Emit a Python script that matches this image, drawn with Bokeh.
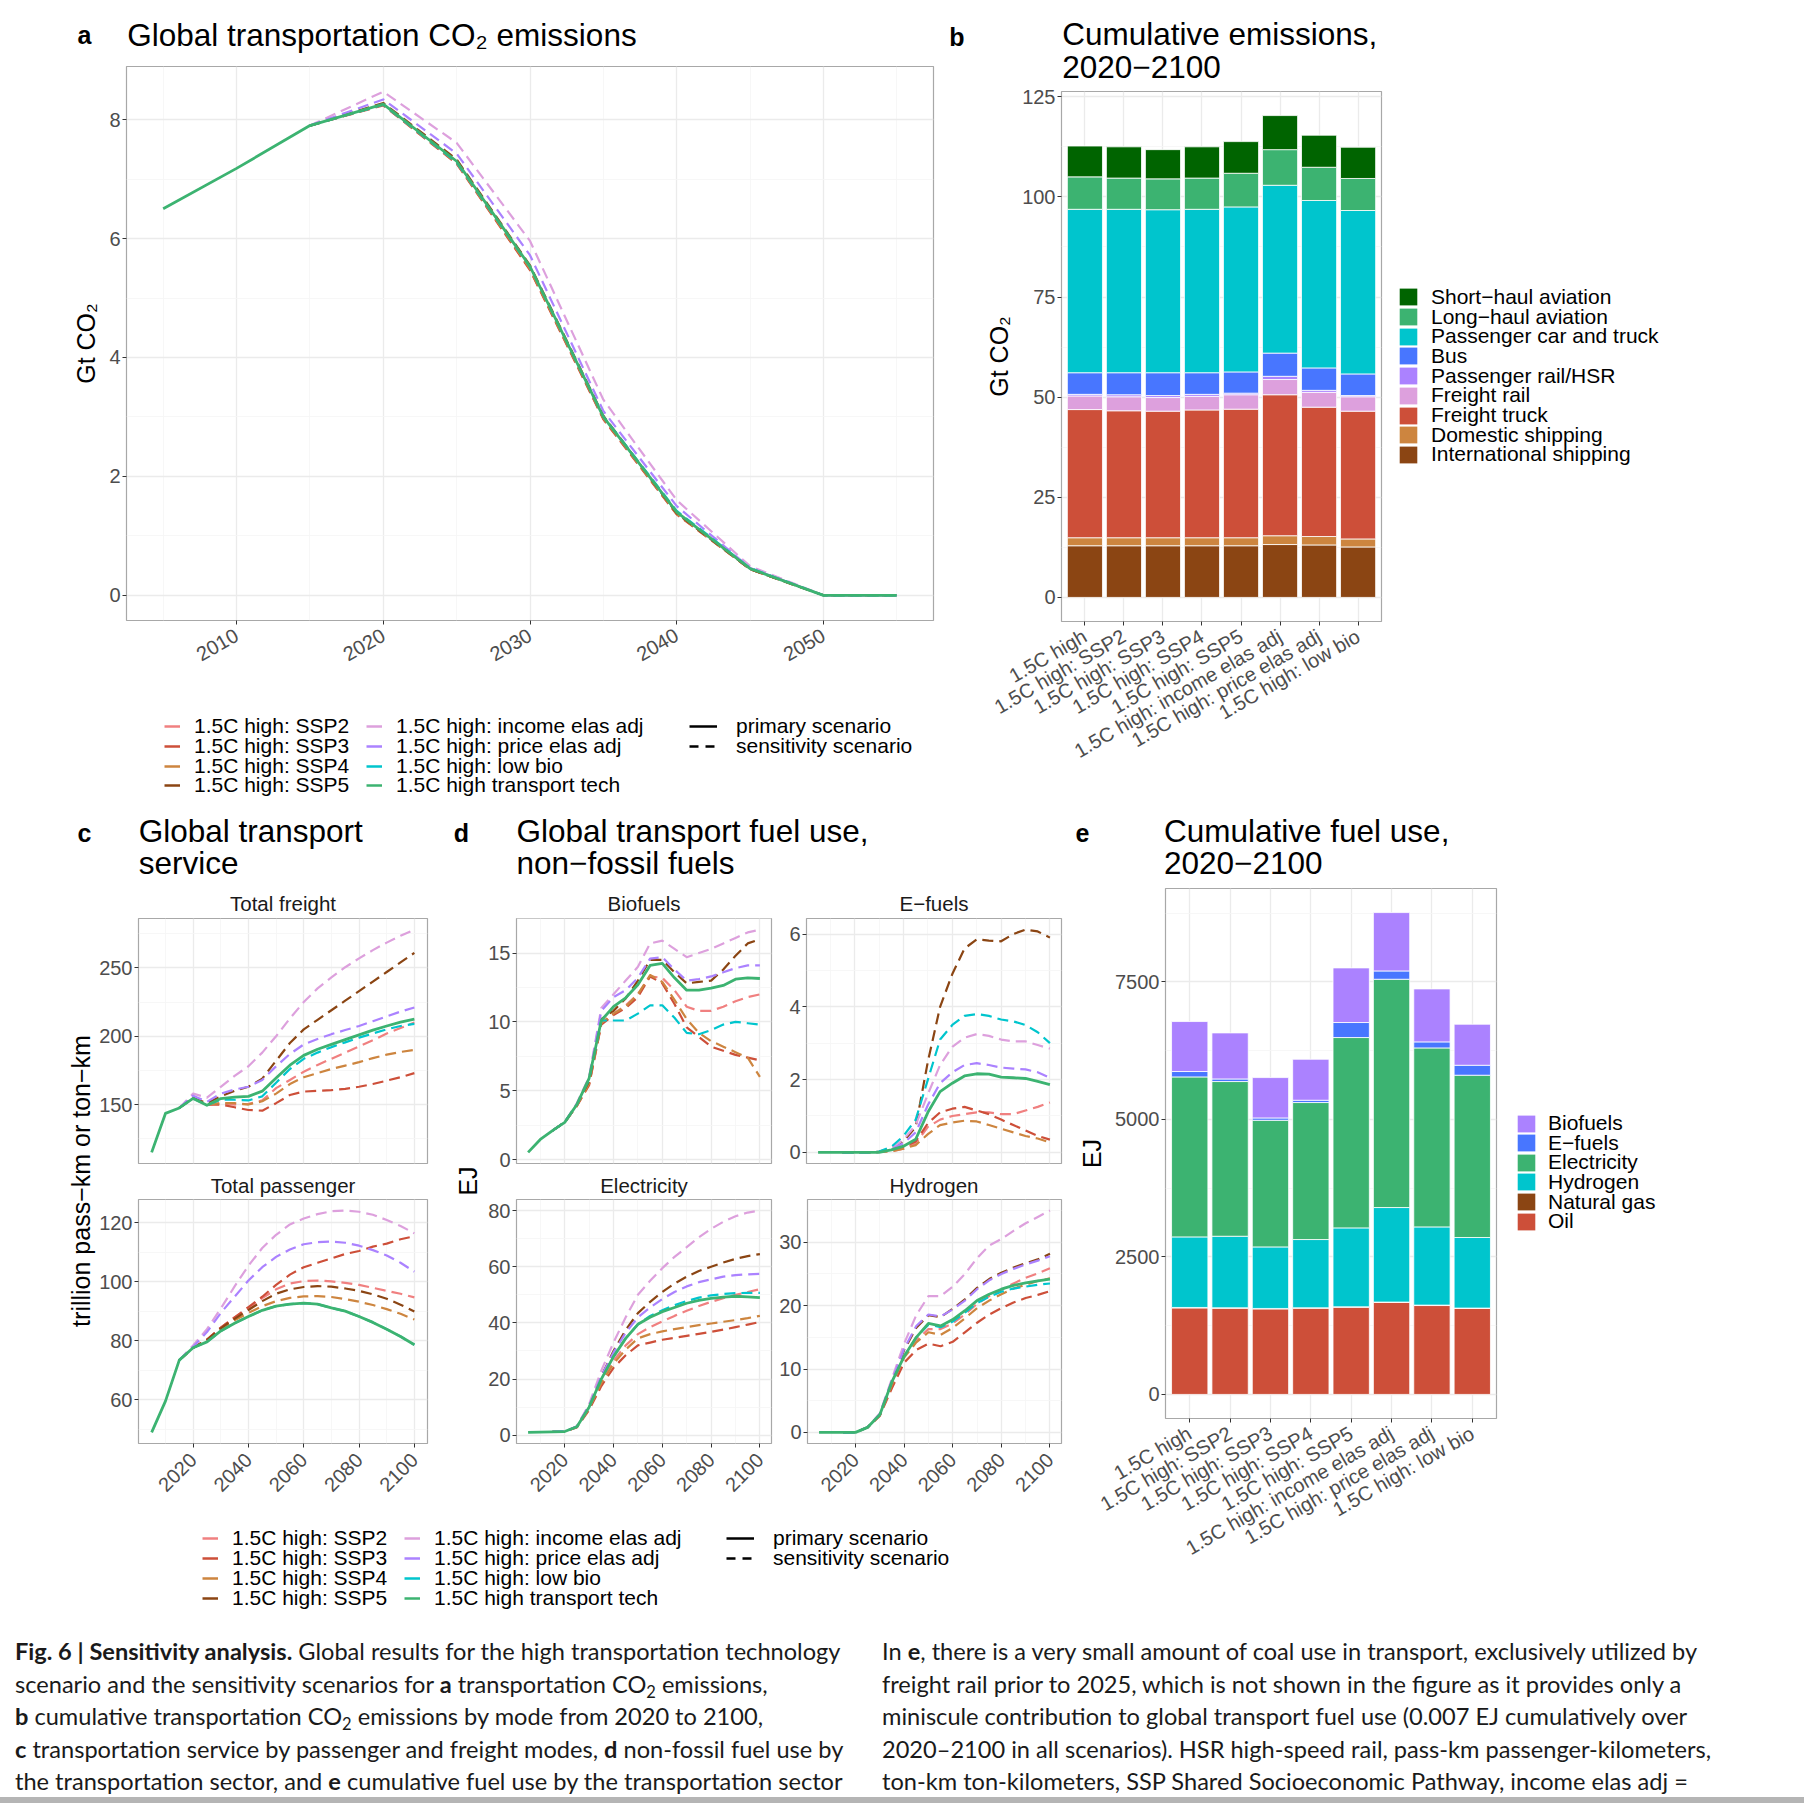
import math
from bokeh.plotting import figure
from bokeh.models import Range1d, FixedTicker, Label, Legend, LegendItem, ColumnDataSource, Div
from bokeh.layouts import row, column
from bokeh.embed import file_html
from bokeh.resources import INLINE
from bokeh.core.properties import value

FONT = "Liberation Sans"
MI = "\u2212"
NAN = float("nan")

# ============================ DATA ============================
YEARS = [2005, 2010, 2015, 2020, 2025, 2030, 2035, 2040, 2045, 2050,
         2055, 2060, 2065, 2070, 2075, 2080, 2085, 2090, 2095, 2100]
SENS_YEARS = [2015, 2020, 2025, 2030, 2035, 2040, 2045, 2050, 2055, 2060,
              2065, 2070, 2075, 2080, 2085, 2090, 2095, 2100]
A_YEARS = [2005, 2010, 2015, 2020, 2025, 2030, 2035, 2040, 2045, 2050, 2055]
A_SENS_YEARS = [2015, 2020, 2025, 2030, 2035, 2040, 2045, 2050, 2055]

SCENARIOS = ["ssp2", "ssp3", "ssp4", "ssp5", "income", "price", "lowbio", "tech"]
SCENARIO_LABELS = ["1.5C high: SSP2", "1.5C high: SSP3", "1.5C high: SSP4", "1.5C high: SSP5",
                   "1.5C high: income elas adj", "1.5C high: price elas adj",
                   "1.5C high: low bio", "1.5C high transport tech"]
SCENARIO_COLORS = ["#F08080", "#CD4F39", "#CD853F", "#8B4513",
                   "#DDA0DD", "#AB82FF", "#00C5CD", "#3CB371"]

# (a) global transportation CO2 emissions, Gt CO2
co2 = {
    "ssp2":   [7.9, 8.25, 7.27, 5.48, 2.97, 1.37, 0.44, 0.0, 0.0],
    "ssp3":   [7.9, 8.24, 7.26, 5.47, 2.96, 1.36, 0.44, 0.0, 0.0],
    "ssp4":   [7.9, 8.25, 7.27, 5.49, 2.98, 1.37, 0.44, 0.0, 0.0],
    "ssp5":   [7.9, 8.28, 7.33, 5.55, 3.02, 1.38, 0.44, 0.0, 0.0],
    "income": [7.9, 8.47, 7.61, 5.96, 3.29, 1.60, 0.49, 0.0, 0.0],
    "price":  [7.9, 8.34, 7.43, 5.72, 3.10, 1.50, 0.46, 0.0, 0.0],
    "lowbio": [7.9, 8.25, 7.28, 5.52, 3.01, 1.42, 0.46, 0.0, 0.0],
    "tech":   [6.5, 7.18, 7.9, 8.26, 7.30, 5.53, 3.00, 1.40, 0.45, 0.0, 0.0],
}

# (c) transport service, trillion ton-km / pass-km
freight = {
    "ssp2":   [147.5, 155, 150, 151, 150, 150.5, 153, 162, 168, 174, 179, 183.5, 188, 192.5, 197, 202, 206, 210],
    "ssp3":   [147.5, 155, 150, 150, 148, 146, 145.5, 151, 157, 159.5, 160, 160.5, 161.5, 163, 165, 167.5, 170, 173],
    "ssp4":   [147.5, 155, 150, 151, 151, 150, 152.4, 158, 165, 170, 173, 176, 178.5, 181, 184, 186.5, 188.5, 190],
    "ssp5":   [147.5, 155, 151, 156, 160, 163, 169, 182, 195, 205, 212, 219, 226, 233, 240, 247, 254, 261],
    "income": [147.5, 158, 155, 163, 171, 178, 188, 200, 213, 225, 235, 243, 250.5, 257, 263, 268.5, 273.5, 278],
    "price":  [147.5, 156.5, 152, 158, 161, 163, 168, 178, 187, 194, 198, 201.5, 204.5, 207.5, 211, 214.5, 218, 221],
    "lowbio": [147.5, 154.5, 149.5, 153.5, 153.5, 153, 156, 166, 176, 183.5, 188, 192, 195.5, 199, 202, 205, 207.5, 209],
    "tech":   [115, 143.5, 147.5, 154.5, 149.5, 154.4, 155.5, 156, 159.8, 169.5, 178.8, 186, 190.5, 194, 197.5, 201, 204.5, 207.5, 210.3, 212.5],
}
passenger = {
    "ssp2":   [73.5, 77.7, 80.5, 84.5, 88, 91, 94.5, 97.5, 99.5, 100.3, 100.5, 100.2, 99.7, 99, 98, 97, 96, 94.8],
    "ssp3":   [73.5, 77.7, 80.5, 84.5, 88, 91.5, 95, 99, 102.5, 105, 106.5, 108, 109.5, 110.5, 112, 113, 114.5, 115.5],
    "ssp4":   [73.5, 77.7, 80, 84, 87, 89.5, 91.8, 93.5, 94.6, 95.1, 95.2, 94.9, 94.2, 93.3, 92.2, 90.8, 89.2, 87.3],
    "ssp5":   [73.5, 77.7, 80.3, 84.3, 87.5, 90.5, 93.5, 96, 97.5, 98.3, 98.6, 98.4, 97.8, 97, 95.8, 94.3, 92.3, 90],
    "income": [73.5, 78.5, 84, 91, 98.5, 105.5, 111.5, 116, 119.5, 121.5, 123, 124, 124.2, 123.8, 122.8, 121, 119, 116.5],
    "price":  [73.5, 78, 83, 89.5, 95, 100.5, 105, 108.5, 111, 112.8, 113.5, 113.7, 113.3, 112.3, 110.8, 109, 106.5, 103.5],
    "lowbio": [73.5, 77.7, 79.7, 83.4, 86.0, 88.3, 90.4, 91.8, 92.5, 92.8, 92.5, 91.2, 90.1, 88.3, 86.3, 84.0, 81.5, 78.7],
    "tech":   [49.0, 59.6, 73.5, 77.7, 79.7, 83.4, 86.0, 88.3, 90.4, 91.8, 92.5, 92.8, 92.5, 91.2, 90.1, 88.3, 86.3, 84.0, 81.5, 78.7],
}

# (d) non-fossil fuel use, EJ
biofuels = {
    "ssp2":   [2.1, 2.7, 3.9, 5.5, 9.9, 10.6, 11.2, 12.0, 13.3, 13.2, 12.3, 11.1, 10.8, 10.8, 11.1, 11.5, 11.8, 12.0],
    "ssp3":   [2.1, 2.7, 3.9, 5.4, 9.8, 10.5, 11.0, 11.8, 13.3, 12.8, 11.3, 9.6, 8.9, 8.2, 7.9, 7.6, 7.4, 7.2],
    "ssp4":   [2.1, 2.7, 3.9, 5.5, 9.9, 10.6, 11.1, 12.0, 13.4, 12.9, 11.6, 10.2, 9.2, 8.6, 8.2, 7.8, 7.4, 6.0],
    "ssp5":   [2.1, 2.7, 4.0, 5.7, 10.2, 10.8, 11.7, 13.0, 14.5, 14.5, 13.6, 12.8, 12.9, 13.0, 13.8, 14.8, 15.7, 16.0],
    "income": [2.1, 2.7, 4.1, 6.0, 11.0, 12.0, 13.0, 14.0, 15.7, 15.9, 15.3, 14.7, 15.0, 15.3, 15.7, 16.1, 16.5, 16.7],
    "price":  [2.1, 2.7, 4.0, 5.9, 10.8, 11.8, 12.3, 13.2, 14.6, 14.7, 13.8, 13.0, 13.1, 13.3, 13.6, 13.9, 14.1, 14.1],
    "lowbio": [2.1, 2.7, 4.0, 5.8, 10.1, 10.1, 10.1, 10.6, 11.2, 11.2, 10.3, 9.2, 9.1, 9.4, 9.8, 10.0, 9.9, 9.8],
    "tech":   [0.52, 1.46, 2.1, 2.7, 4.0, 5.9, 10.1, 11.1, 11.75, 12.7, 14.1, 14.25, 13.2, 12.3, 12.3, 12.45, 12.65, 13.1, 13.2, 13.15],
}
efuels = {
    "ssp2":   [0, 0, 0, 0.01, 0.03, 0.1, 0.25, 0.7, 0.9, 1.0, 1.05, 1.1, 1.1, 1.05, 1.05, 1.15, 1.25, 1.37],
    "ssp3":   [0, 0, 0, 0.01, 0.05, 0.15, 0.3, 0.8, 1.1, 1.2, 1.25, 1.15, 1.05, 0.9, 0.75, 0.6, 0.45, 0.35],
    "ssp4":   [0, 0, 0, 0.01, 0.03, 0.1, 0.2, 0.5, 0.75, 0.82, 0.87, 0.85, 0.75, 0.65, 0.55, 0.45, 0.38, 0.27],
    "ssp5":   [0, 0, 0, 0.02, 0.1, 0.3, 0.7, 2.5, 4.0, 4.9, 5.6, 5.85, 5.82, 5.8, 6.0, 6.12, 6.07, 5.9],
    "income": [0, 0, 0, 0.01, 0.1, 0.35, 0.75, 1.6, 2.4, 2.9, 3.15, 3.25, 3.2, 3.1, 3.05, 3.05, 2.95, 2.85],
    "price":  [0, 0, 0, 0.01, 0.08, 0.25, 0.55, 1.3, 1.9, 2.2, 2.4, 2.45, 2.4, 2.33, 2.3, 2.28, 2.2, 2.05],
    "lowbio": [0, 0, 0, 0.02, 0.15, 0.45, 0.9, 2.0, 3.1, 3.5, 3.75, 3.8, 3.75, 3.65, 3.6, 3.5, 3.3, 3.0],
    "tech":   [0, 0, 0, 0, 0, 0, 0.07, 0.17, 0.36, 1.1, 1.67, 1.9, 2.1, 2.16, 2.15, 2.07, 2.05, 2.03, 1.95, 1.86],
}
electricity = {
    "ssp2":   [1.2, 1.3, 2.9, 9.5, 19, 26.5, 32, 36, 38.5, 40.5, 42.5, 44.3, 46, 47.5, 48.8, 50, 51, 52],
    "ssp3":   [1.2, 1.3, 2.8, 9, 17.5, 24, 28.5, 32, 33, 34, 34.7, 35.4, 36.1, 36.8, 37.6, 38.5, 39.4, 40.3],
    "ssp4":   [1.2, 1.3, 2.9, 9.5, 18.5, 25.5, 30.5, 34.5, 36, 37, 37.8, 38.5, 39.2, 39.8, 40.4, 41, 41.7, 42.5],
    "ssp5":   [1.2, 1.3, 3.1, 10.5, 21, 30, 37.5, 43.5, 47.5, 51, 54, 56.5, 58.5, 60, 61.5, 62.8, 63.8, 64.5],
    "income": [1.2, 1.3, 3.2, 11, 23, 33, 42, 50, 55, 59.5, 63.5, 67, 70.5, 73.5, 76, 78, 79.3, 80],
    "price":  [1.2, 1.3, 3.1, 10.5, 21, 29.5, 36.5, 42, 45.5, 48.5, 51, 53, 54.5, 55.5, 56.5, 57, 57.3, 57.5],
    "lowbio": [1.2, 1.3, 3.0, 10, 20, 28, 34.5, 39.5, 42.5, 44.5, 46.3, 47.8, 49, 49.8, 50.3, 50.6, 50.7, 50.7],
    "tech":   [1.0, 1.1, 1.2, 1.3, 3.0, 10, 20, 28, 34.5, 39.5, 42, 44, 45.5, 47, 48, 48.7, 49.2, 49.5, 49.3, 49.0],
}
hydrogen = {
    "ssp2":   [0, 0, 0.8, 2.7, 7.5, 12, 14.5, 16.3, 16.3, 17.2, 18.6, 20.3, 21.5, 22.5, 23.5, 24.4, 25.1, 25.9],
    "ssp3":   [0, 0, 0.8, 2.6, 7, 11, 13, 14, 13.6, 14.3, 15.8, 17.3, 18.6, 19.6, 20.5, 21.2, 21.7, 22.3],
    "ssp4":   [0, 0, 0.8, 2.7, 7.5, 11.8, 14.2, 15.8, 15.4, 16.5, 18, 19.6, 20.8, 21.8, 22.7, 23.3, 23.9, 24.3],
    "ssp5":   [0, 0, 0.8, 2.9, 8, 13, 16.5, 18.5, 18.2, 19.5, 21, 22.8, 24.2, 25.2, 26, 26.7, 27.3, 28.2],
    "income": [0, 0, 0.8, 3.0, 8.5, 14, 18.5, 21.5, 21.5, 23, 25, 27.5, 29.5, 30.5, 31.8, 33, 34, 35],
    "price":  [0, 0, 0.8, 2.9, 8.2, 13.2, 16.8, 18.6, 18.3, 19.4, 20.8, 22.6, 24, 25, 25.8, 26.5, 27.1, 27.8],
    "lowbio": [0, 0, 0.8, 2.8, 8, 12, 15, 17, 16.6, 17.5, 18.9, 20.4, 21.4, 22.2, 22.7, 23, 23.3, 23.5],
    "tech":   [0, 0, 0, 0, 0.8, 2.8, 8, 12, 15, 17.2, 16.8, 17.8, 19.2, 20.8, 21.8, 22.6, 23.2, 23.6, 23.9, 24.2],
}

# (b) and (e) categories
CATEGORIES = ["1.5C high", "1.5C high: SSP2", "1.5C high: SSP3", "1.5C high: SSP4",
              "1.5C high: SSP5", "1.5C high: income elas adj", "1.5C high: price elas adj",
              "1.5C high: low bio"]

# (b) cumulative emissions 2020-2100 by mode, Gt CO2 (stack bottom -> top)
intl_shipping   = [12.9, 12.9, 12.9, 12.9, 12.9, 13.2, 13.1, 12.6]
dom_shipping    = [2.0, 2.0, 2.0, 2.0, 2.0, 2.2, 2.1, 2.0]
freight_truck   = [32.0, 31.7, 31.6, 31.9, 32.1, 35.2, 32.3, 31.9]
freight_rail    = [3.4, 3.5, 3.4, 3.4, 3.6, 3.8, 3.7, 3.6]
passenger_rail  = [0.4, 0.5, 0.5, 0.5, 0.4, 0.8, 0.5, 0.3]
bus             = [5.4, 5.5, 5.7, 5.4, 5.3, 5.8, 5.6, 5.4]
car_truck       = [40.8, 40.8, 40.7, 40.8, 41.2, 41.9, 41.8, 40.8]
longhaul_avi    = [8.1, 7.8, 7.7, 7.8, 8.4, 8.9, 8.3, 8.0]
shorthaul_avi   = [7.7, 7.8, 7.3, 7.8, 7.9, 8.5, 8.0, 7.8]
B_LABELS = ["International shipping", "Domestic shipping", "Freight truck", "Freight rail",
            "Passenger rail/HSR", "Bus", "Passenger car and truck",
            "Long" + MI + "haul aviation", "Short" + MI + "haul aviation"]
B_COLORS = ["#8B4513", "#CD853F", "#CD4F39", "#DDA0DD", "#AB82FF", "#4876FF",
            "#00C5CD", "#3CB371", "#006400"]

# (e) cumulative fuel use 2020-2100, EJ (stack bottom -> top)
fuel_oil         = [1573, 1567, 1555, 1567, 1585, 1671, 1616, 1562]
fuel_gas         = [8, 8, 8, 8, 8, 8, 8, 8]
fuel_hydrogen    = [1283, 1301, 1119, 1241, 1435, 1719, 1422, 1283]
fuel_electricity = [2909, 2813, 2303, 2491, 3461, 4151, 3254, 2951]
fuel_efuels      = [98, 47, 42, 42, 273, 151, 110, 181]
fuel_biofuels    = [909, 837, 734, 745, 993, 1061, 963, 746]
E_LABELS = ["Oil", "Natural gas", "Hydrogen", "Electricity", "E" + MI + "fuels", "Biofuels"]
E_COLORS = ["#CD4F39", "#8B4513", "#00C5CD", "#3CB371", "#4876FF", "#AB82FF"]

# ============================ STYLE HELPERS ============================
FRAME_COLOR = "#A8A8A8"
GRID_MAJOR = "#EBEBEB"
GRID_MINOR = "#F5F5F5"
TICK_COLOR = "#333333"
TICK_LABEL_COLOR = "#4D4D4D"
DASH = "11 6"


def W(p):
    return column(p)


def mk(w, h, bl, bt, fw, fh, xr, yr):
    p = figure(width=w, height=h, x_range=xr, y_range=yr, toolbar_location=None,
               output_backend="svg", min_border_left=bl, min_border_top=bt,
               min_border_right=w - bl - fw, min_border_bottom=h - bt - fh)
    p.outline_line_color = FRAME_COLOR
    p.outline_line_width = 1.2
    p.background_fill_color = "white"
    p.border_fill_color = "white"
    return p


def blank(w, h):
    p = figure(width=w, height=h, x_range=Range1d(0, 1), y_range=Range1d(0, 1),
               toolbar_location=None, output_backend="svg",
               x_axis_location=None, y_axis_location=None,
               min_border_left=0, min_border_right=0, min_border_top=0, min_border_bottom=0)
    p.outline_line_color = None
    p.grid.visible = False
    return p


def header(w, h, texts):
    """texts: (x, y, text, size, bold, align, angle, color) in canvas px (y from top)."""
    p = blank(w, h)
    for (x, y, text, size, bold, align, angle, color) in texts:
        p.add_layout(Label(x=x, y=h - y, x_units="screen", y_units="screen", text=text,
                           text_font=FONT, text_font_size=size,
                           text_font_style="bold" if bold else "normal",
                           text_align=align, text_baseline="middle", angle=angle,
                           text_color=color))
    return p


def T(x, y, text, size="31.5px", bold=False, align="left", angle=0.0, color="black"):
    return (x, y, text, size, bold, align, angle, color)


def style(p, xt, xm, yt, ym, show_x=True, x_angle=0, x_over=None, ylab=None):
    xf = FixedTicker(ticks=xt, minor_ticks=xm)
    yf = FixedTicker(ticks=yt, minor_ticks=ym)
    xa, ya = p.xaxis[0], p.yaxis[0]
    xa.ticker = xf
    ya.ticker = yf
    p.xgrid[0].ticker = xf
    p.ygrid[0].ticker = yf
    for g in (p.xgrid[0], p.ygrid[0]):
        g.grid_line_color = GRID_MAJOR
        g.grid_line_width = 1.3
        g.minor_grid_line_color = GRID_MINOR
        g.minor_grid_line_width = 0.8
    for a in (xa, ya):
        a.axis_line_color = None
        a.major_tick_line_color = TICK_COLOR
        a.major_tick_line_width = 1
        a.major_tick_out = 4
        a.major_tick_in = 0
        a.minor_tick_out = 0
        a.minor_tick_in = 0
        a.major_label_text_font = FONT
        a.major_label_text_font_size = "20px"
        a.major_label_text_color = TICK_LABEL_COLOR
        a.major_label_standoff = 2
    if x_angle:
        xa.major_label_orientation = math.radians(x_angle)
        xa.major_label_standoff = 9
    if x_over:
        xa.major_label_overrides = x_over
    if not show_x:
        xa.visible = False
    if ylab:
        ya.axis_label = ylab
        ya.axis_label_text_font = FONT
        ya.axis_label_text_font_size = "25px"
        ya.axis_label_text_font_style = "normal"
        ya.axis_label_text_color = "black"
        ya.axis_label_standoff = 6


def expand(vals, mult=0.05):
    lo, hi = min(vals), max(vals)
    d = (hi - lo) * mult
    return Range1d(lo - d, hi + d)


def all_vals(d):
    out = []
    for k in d:
        out += d[k]
    return out


def draw_scen(p, d, sens_years, tech_years):
    for k, c in zip(SCENARIOS[:-1], SCENARIO_COLORS[:-1]):
        p.line(sens_years, d[k], line_color=c, line_width=2.2, line_dash=DASH, line_join="round")
    p.line(tech_years, d["tech"], line_color=SCENARIO_COLORS[-1], line_width=2.8, line_join="round")


ITEM_H = 24.2   # rendered legend item height for 21px labels


def legend_canvas(w, h, top, blocks):
    """One single-item Legend per key, placed at exact rows.
    blocks: (x_key, first_row_center_page, pitch, entries, glyph_w, glyph_h, standoff)
    entries: (label, kind, color, dash)"""
    p = blank(w, h)
    for (xk, c0, pitch, entries, gw, gh, so) in blocks:
        for i, (lab, kind, color, dash) in enumerate(entries):
            if kind == "line":
                r = p.line(x=[NAN], y=[NAN], line_color=color, line_width=2.5, line_dash=dash)
            else:
                r = p.vbar(x=[NAN], top=[NAN], width=1, fill_color=color, line_color=None)
            center = c0 + i * pitch - top
            leg = Legend(items=[LegendItem(label=value(lab), renderers=[r])],
                         location=(xk, h - center - ITEM_H / 2), orientation="vertical",
                         padding=0, margin=0, spacing=0, glyph_width=gw, glyph_height=gh,
                         label_height=20, label_standoff=so, label_text_font=FONT,
                         label_text_font_size="21px", label_text_color="black",
                         border_line_color=None, background_fill_alpha=0)
            p.add_layout(leg)
    return p


SC_ENTRIES = [(l, "line", c, "solid") for l, c in zip(SCENARIO_LABELS, SCENARIO_COLORS)]
LT_ENTRIES = [("primary scenario", "line", "black", "solid"),
              ("sensitivity scenario", "line", "black", "9 7")]


def scen_legend(w, h, top, first, pitch, x1, x2, x3):
    return legend_canvas(w, h, top, [
        (x1, first, pitch, SC_ENTRIES[:4], 16, 20, 14),
        (x2, first, pitch, SC_ENTRIES[4:], 16, 20, 14),
        (x3, first, pitch, LT_ENTRIES, 28, 20, 19),
    ])


CAT_X = [1, 2, 3, 4, 5, 6, 7, 8]
CAT_OVER = {i + 1: CATEGORIES[i] for i in range(8)}
PITCH = 19.7

# ============================ PANEL A ============================
head_a = header(982, 60, [T(84, 34.5, "a", "25px", True, "center"),
                          T(126.7, 34.5, "Global transportation CO\u2082 emissions"),
                          T(956.5, 36.7, "b", "25px", True, "center")])
pa = mk(982, 640, 126, 6, 807, 554, Range1d(2002.5, 2057.5), expand(all_vals(co2)))
style(pa, [2010, 2020, 2030, 2040, 2050], [2005, 2015, 2025, 2035, 2045, 2055],
      [0, 2, 4, 6, 8], [1, 3, 5, 7], x_angle=30, ylab="Gt CO\u2082")
draw_scen(pa, co2, A_SENS_YEARS, A_YEARS)
leg_a = scen_legend(982, 110, 700, 726, PITCH, 164, 366, 689)

# ============================ PANEL B ============================
b_data = dict(x=CAT_X)
b_keys = ["intl", "dom", "truck", "frail", "prail", "bus", "car", "long", "short"]
for k, v in zip(b_keys, [intl_shipping, dom_shipping, freight_truck, freight_rail, passenger_rail,
                         bus, car_truck, longhaul_avi, shorthaul_avi]):
    b_data[k] = v
b_tot = [sum(b_data[k][i] for k in b_keys) for i in range(8)]
head_b = header(413, 84, [T(79.7, 33.3, "Cumulative emissions,"),
                          T(79.7, 66.7, "2020" + MI + "2100")])
pb = mk(413, 726, 78, 7, 321, 530, Range1d(0.4, 8.6), expand([0] + b_tot))
style(pb, CAT_X, [], [0, 25, 50, 75, 100, 125], [12.5, 37.5, 62.5, 87.5, 112.5],
      x_angle=30, x_over=CAT_OVER, ylab="Gt CO\u2082")
pb.vbar_stack(b_keys, x="x", width=0.9, fill_color=B_COLORS, line_color="white", line_width=0.8,
              source=ColumnDataSource(b_data))
leg_b = legend_canvas(409, 810, 0, [
    (2, 296.7, PITCH, [(l, "bar", c, None) for l, c in list(zip(B_LABELS, B_COLORS))[::-1]], 22, 21, 12)])

# ============================ PANELS C / D ============================
head_cd = header(1075, 75, [T(84, 22.6, "c", "25px", True, "center"),
                            T(138.2, 20, "Global transport"),
                            T(138.2, 52.5, "service"),
                            T(460.8, 22.6, "d", "25px", True, "center"),
                            T(516, 20, "Global transport fuel use,"),
                            T(516, 52.5, "non" + MI + "fossil fuels")])

XR_CD = (2000.25, 2104.75)
XT_CD = [2020, 2040, 2060, 2080, 2100]
XM_CD = [2010, 2030, 2050, 2070, 2090]


def facet_col(w, bl, fw, top_data, top_yt, top_ym, top_title, bot_data, bot_yt, bot_ym, bot_title):
    cx = bl + fw / 2
    h1 = header(w, 30, [T(cx, 18.3, top_title, "20.5px", False, "center", 0.0, "#1A1A1A")])
    p1 = mk(w, 253, bl, 3, fw, 245, Range1d(*XR_CD), expand(all_vals(top_data)))
    style(p1, XT_CD, XM_CD, top_yt, top_ym, show_x=False)
    draw_scen(p1, top_data, SENS_YEARS, YEARS)
    h2 = header(w, 29, [T(cx, 17, bot_title, "20.5px", False, "center", 0.0, "#1A1A1A")])
    p2 = mk(w, 308, bl, 2, fw, 244, Range1d(*XR_CD), expand(all_vals(bot_data)))
    style(p2, XT_CD, XM_CD, bot_yt, bot_ym, x_angle=45)
    draw_scen(p2, bot_data, SENS_YEARS, YEARS)
    return column(W(h1), W(p1), W(h2), W(p2))


col_c = facet_col(336, 42, 289, freight, [150, 200, 250], [125, 175, 225, 275], "Total freight",
                  passenger, [60, 80, 100, 120], [50, 70, 90, 110], "Total passenger")
col_d1 = facet_col(294, 34, 255, biofuels, [0, 5, 10, 15], [2.5, 7.5, 12.5, 17.5], "Biofuels",
                   electricity, [0, 20, 40, 60, 80], [10, 30, 50, 70], "Electricity")
col_d2 = facet_col(299, 30, 255, efuels, [0, 2, 4, 6], [1, 3, 5], "E" + MI + "fuels",
                   hydrogen, [0, 10, 20, 30], [5, 15, 25, 35], "Hydrogen")

strip_c = header(96, 620, [T(80.6, 295.5, "trillion pass" + MI + "km or ton" + MI + "km", "25px",
                             False, "center", math.pi / 2)])
strip_d = header(50, 620, [T(35, 295.5, "EJ", "25px", False, "center", math.pi / 2)])

leg_cd = scen_legend(1075, 120, 1505, 1538.3, PITCH, 202, 404, 726)

# ============================ PANEL E ============================
e_data = dict(x=CAT_X)
e_keys = ["oil", "gas", "h2", "elec", "ef", "bio"]
for k, v in zip(e_keys, [fuel_oil, fuel_gas, fuel_hydrogen, fuel_electricity, fuel_efuels, fuel_biofuels]):
    e_data[k] = v
e_tot = [sum(e_data[k][i] for k in e_keys) for i in range(8)]
head_e = header(435, 76, [T(7, 22.6, "e", "25px", True, "center"),
                          T(88.5, 20, "Cumulative fuel use,"),
                          T(88.5, 52.5, "2020" + MI + "2100")])
pe = mk(435, 739, 87, 2, 334, 530, Range1d(0.4, 8.6), expand([0] + e_tot))
style(pe, CAT_X, [], [0, 2500, 5000, 7500], [1250, 3750, 6250, 8750],
      x_angle=30, x_over=CAT_OVER, ylab="EJ")
pe.vbar_stack(e_keys, x="x", width=0.9, fill_color=E_COLORS, line_color="white", line_width=0.8,
              source=ColumnDataSource(e_data))
leg_e = legend_canvas(294, 815, 810, [
    (5, 1123, 19.6, [(l, "bar", c, None) for l, c in list(zip(E_LABELS, E_COLORS))[::-1]], 22, 21, 11)])

# ============================ CAPTION ============================
SUB2 = '<span style="font-size:70%;vertical-align:-0.28em;line-height:0">2</span>'
left_lines = [
    "<b>Fig. 6 | Sensitivity analysis.</b> Global results for the high transportation technology",
    "scenario and the sensitivity scenarios for <b>a</b> transportation CO" + SUB2 + " emissions,",
    "<b>b</b> cumulative transportation CO" + SUB2 + " emissions by mode from 2020 to 2100,",
    "<b>c</b> transportation service by passenger and freight modes, <b>d</b> non-fossil fuel use by",
    "the transportation sector, and <b>e</b> cumulative fuel use by the transportation sector",
]
right_lines = [
    "In <b>e</b>, there is a very small amount of coal use in transport, exclusively utilized by",
    "freight rail prior to 2025, which is not shown in the figure as it provides only a",
    "miniscule contribution to global transport fuel use (0.007 EJ cumulatively over",
    "2020\u20132100 in all scenarios). HSR high-speed rail, pass-km passenger-kilometers,",
    "ton-km ton-kilometers, SSP Shared Socioeconomic Pathway, income elas adj =",
]
col_style = "position:absolute;top:10px;line-height:32.5px;white-space:nowrap;"
cap_html = (
    '<div style="position:relative;width:1804px;height:178px;font-family:Lato,sans-serif;'
    'font-size:23.6px;color:#1a1a1a;">'
    '<div style="' + col_style + 'left:15px;">' + "<br>".join(left_lines) + '</div>'
    '<div style="' + col_style + 'left:882px;">' + "<br>".join(right_lines) + '</div>'
    '<div style="position:absolute;left:0;top:172px;width:1804px;height:6px;background:#b5b5b5;"></div>'
    '</div>'
)
caption = Div(text=cap_html, width=1804, height=178, margin=0)

# ============================ LAYOUT ============================
col_a = column(W(head_a), W(pa), W(leg_a))
col_b = column(W(head_b), W(pb))
top_row = row(col_a, col_b, W(leg_b))

facet_row = row(W(strip_c), col_c, W(strip_d), col_d1, col_d2)
cd_block = column(W(head_cd), facet_row, W(leg_cd))
col_e = column(W(head_e), W(pe))
mid_row = row(cd_block, col_e, W(leg_e))

layout = column(top_row, mid_row, caption)

open("out.html", "w").write(file_html(layout, INLINE))
